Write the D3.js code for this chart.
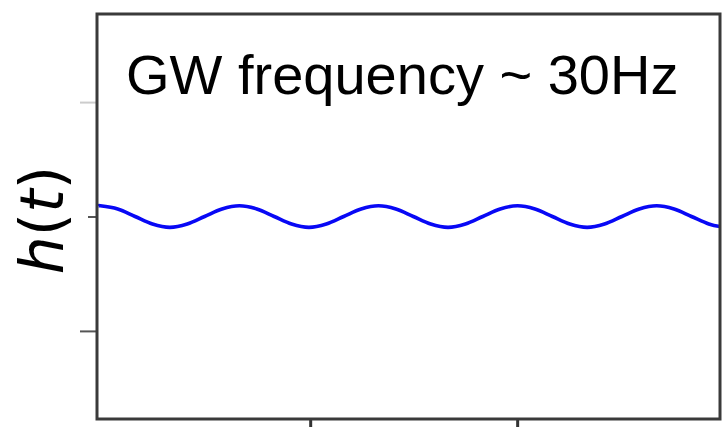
<!DOCTYPE html>
<html>
<head>
<meta charset="utf-8">
<script src="https://cdn.jsdelivr.net/npm/d3@7"></script>
<style>
  html, body { margin: 0; padding: 0; background: #fff; }
  svg { display: block; }
</style>
</head>
<body>
<svg id="chart"></svg>
<script>
// time (ms) and strain h(t)
const timeMs = [-1.5, -0.7, 3.5, 7.7, 11.9, 16.1, 20.3, 24.5, 28.7, 32.9, 37.1, 41.3, 45.5,
  49.7, 53.9, 58.1, 62.3, 66.5, 70.7, 74.9, 79.1, 83.3, 87.5, 91.7, 95.9, 100.1, 104.3,
  108.5, 112.7, 116.9, 121.1, 125.3, 129.5, 133.7, 137.9, 142.1, 146.3, 149.0];
const strain = [0.088, 0.094, 0.066, 0.0, -0.066, -0.095, -0.066, 0.0, 0.066, 0.094, 0.066,
  0.0, -0.066, -0.095, -0.066, 0.0, 0.066, 0.094, 0.066, 0.0, -0.066, -0.095, -0.066, 0.0,
  0.066, 0.094, 0.066, 0.0, -0.066, -0.095, -0.066, 0.0, 0.066, 0.094, 0.066, 0.0, -0.066, -0.088];
const xTicks = [50, 100];
const yTicks = [-1, 0, 1];
const title = "GW frequency ~ 30Hz";

const width = 723, height = 427;
const margin = {top: 14, right: 3, bottom: 8, left: 97};

const svg = d3.select('#chart')
    .attr('width', width)
    .attr('height', height);

const x = d3.scaleLinear()
    .domain([-1.5, 149])
    .range([margin.left, width - margin.right]);

const y = d3.scaleLinear()
    .domain([-1.77, 1.77])
    .range([height - margin.bottom, margin.top]);

svg.append('clipPath').attr('id', 'plotClip')
  .append('rect')
    .attr('x', margin.left)
    .attr('y', margin.top)
    .attr('width', width - margin.left - margin.right)
    .attr('height', height - margin.top - margin.bottom);

const data = timeMs.map((t, i) => ({t, h: strain[i]}));

const line = d3.line()
    .x(d => x(d.t))
    .y(d => y(d.h))
    .curve(d3.curveCardinal);

svg.append('path')
    .datum(data)
    .attr('clip-path', 'url(#plotClip)')
    .attr('fill', 'none')
    .attr('stroke', '#0808f5')
    .attr('stroke-width', 3.6)
    .attr('stroke-linejoin', 'round')
    .attr('d', line);

// axes, ticks only (no labels)
const yAxis = svg.append('g')
    .attr('transform', `translate(${margin.left},0)`)
    .call(d3.axisLeft(y).tickValues(yTicks).tickSize(17).tickSizeOuter(0).tickFormat(''));
yAxis.select('.domain').remove();
yAxis.selectAll('.tick line').attr('stroke', '#555').attr('stroke-width', 2);
yAxis.selectAll('.tick').filter(d => d === 0).select('line').attr('x2', -9);
yAxis.selectAll('.tick').filter(d => d === 1).select('line').attr('stroke', '#ccc');

const xAxis = svg.append('g')
    .attr('transform', `translate(0,${height - margin.bottom})`)
    .call(d3.axisBottom(x).tickValues(xTicks).tickSize(10).tickSizeOuter(0).tickFormat(''));
xAxis.select('.domain').remove();
xAxis.selectAll('.tick line').attr('stroke', '#333').attr('stroke-width', 3);

// frame
svg.append('rect')
    .attr('x', margin.left)
    .attr('y', margin.top)
    .attr('width', width - margin.left - margin.right)
    .attr('height', height - margin.top - margin.bottom)
    .attr('fill', 'none')
    .attr('stroke', '#3a3a3a')
    .attr('stroke-width', 3);

// annotation
svg.append('text')
    .attr('x', 126)
    .attr('y', 94)
    .attr('font-family', 'Liberation Sans, Arial, sans-serif')
    .attr('font-size', 56)
    .attr('fill', '#000')
    .text(title);

// y label h(t), mathtext style
const ylab = svg.append('text')
    .attr('transform', 'translate(63,220) rotate(-90)')
    .attr('text-anchor', 'middle')
    .attr('font-family', 'DejaVu Sans, sans-serif')
    .attr('font-size', 60)
    .attr('fill', '#000');
ylab.append('tspan').attr('font-style', 'italic').text('h');
ylab.append('tspan').text('(');
ylab.append('tspan').attr('font-style', 'italic').text('t');
ylab.append('tspan').text(')');
</script>
</body>
</html>
